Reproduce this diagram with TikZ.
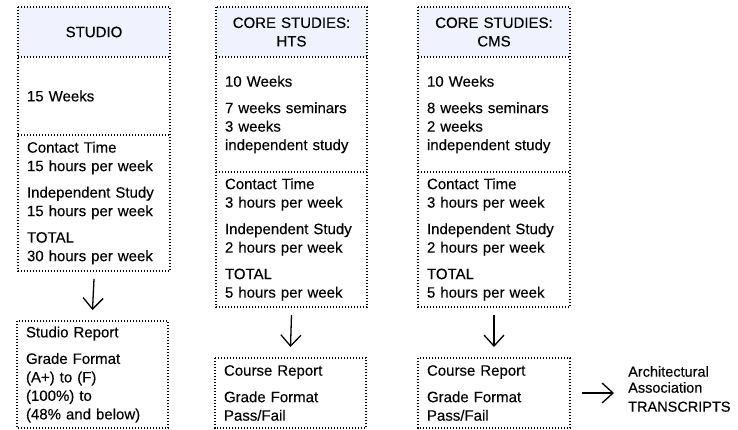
\documentclass[tikz,border=0pt]{standalone}
\usepackage{fontspec}
\setmainfont{Liberation Sans}[FakeBold=0.25]
\usetikzlibrary{arrows.meta}
\definecolor{hdrfill}{RGB}{240,243,253}
\tikzset{
  sec/.style={anchor=north west, inner xsep=9pt, inner ysep=0pt, outer sep=0pt,
    align=left, font=\fontsize{15}{18.5}\selectfont},
  hdr/.style={sec, align=center, fill=hdrfill},
  dotline/.style={line width=1.3pt, dash pattern=on 1.3pt off 1.7pt},
  arr/.style={line width=1.3pt, -{Straight Barb[length=11pt,width=20pt,line width=1.3pt]}},
}
\begin{document}
\begin{tikzpicture}[x=1pt,y=-1pt]
\useasboundingbox (0,0) rectangle (738,430);
% column 1
\node[hdr, text width=134pt, minimum height=50pt] (s1h) at (18,7) {STUDIO};
\node[sec, text width=134pt, minimum height=78pt] (s1b) at (18,57) {15 Weeks};
\node[sec, text width=134pt, minimum height=136pt] (s1c) at (18,135)
  {Contact Time\\15 hours per week\\[8pt]Independent Study\\15 hours per week\\[8pt]TOTAL\\30 hours per week};
% column 2
\node[hdr, text width=133pt, minimum height=50pt] (s2h) at (216,7) {CORE STUDIES:\\HTS};
\node[sec, text width=133pt, minimum height=115pt] (s2b) at (216,57)
  {10 Weeks\\[8pt]7 weeks seminars\\3 weeks\\independent study};
\node[sec, text width=133pt, minimum height=135pt] (s2c) at (216,172)
  {Contact Time\\3 hours per week\\[8pt]Independent Study\\2 hours per week\\[8pt]TOTAL\\5 hours per week};
% column 3
\node[hdr, text width=134pt, minimum height=50pt] (s3h) at (418,7) {CORE STUDIES:\\CMS};
\node[sec, text width=134pt, minimum height=115pt] (s3b) at (418,57)
  {10 Weeks\\[8pt]8 weeks seminars\\2 weeks\\independent study};
\node[sec, text width=134pt, minimum height=135pt] (s3c) at (418,172)
  {Contact Time\\3 hours per week\\[8pt]Independent Study\\2 hours per week\\[8pt]TOTAL\\5 hours per week};
% report boxes
\node[sec, text width=133pt, minimum height=107pt] (r1) at (17,321)
  {Studio Report\\[8pt]Grade Format\\(A+) to (F)\\(100\%) to\\(48\% and below)};
\node[sec, text width=133pt, minimum height=70pt] (r2) at (215,358)
  {Course Report\\[8pt]Grade Format\\Pass/Fail};
\node[sec, text width=134pt, minimum height=70pt] (r3) at (418,358)
  {Course Report\\[8pt]Grade Format\\Pass/Fail};
% transcripts
\node[anchor=west, inner sep=0pt, align=left, font=\fontsize{14.5}{16}\selectfont] (tr) at (628,389)
  {Architectural\\Association\\[3pt]TRANSCRIPTS};
% outlines
\foreach \h/\b/\c in {s1h/s1b/s1c, s2h/s2b/s2c, s3h/s3b/s3c}{
  \draw[dotline] (\h.north west) rectangle (\c.south east);
  \draw[dotline] (\h.south west) -- (\h.south east);
  \draw[dotline] (\b.south west) -- (\b.south east);
}
\foreach \r in {r1,r2,r3}{
  \draw[dotline] (\r.north west) rectangle (\r.south east);
}
% arrows
\draw[arr] ([yshift=-8pt]s1c.south) -- ([yshift=11pt]r1.north);
\draw[arr] ([yshift=-8pt]s2c.south) -- ([yshift=11pt]r2.north);
\draw[arr] ([yshift=-8pt]s3c.south) -- ([yshift=11pt]r3.north);
\draw[arr] ([xshift=12pt]r3.east) -- ([xshift=-14pt]r3.east -| tr.west);
\end{tikzpicture}
\end{document}
